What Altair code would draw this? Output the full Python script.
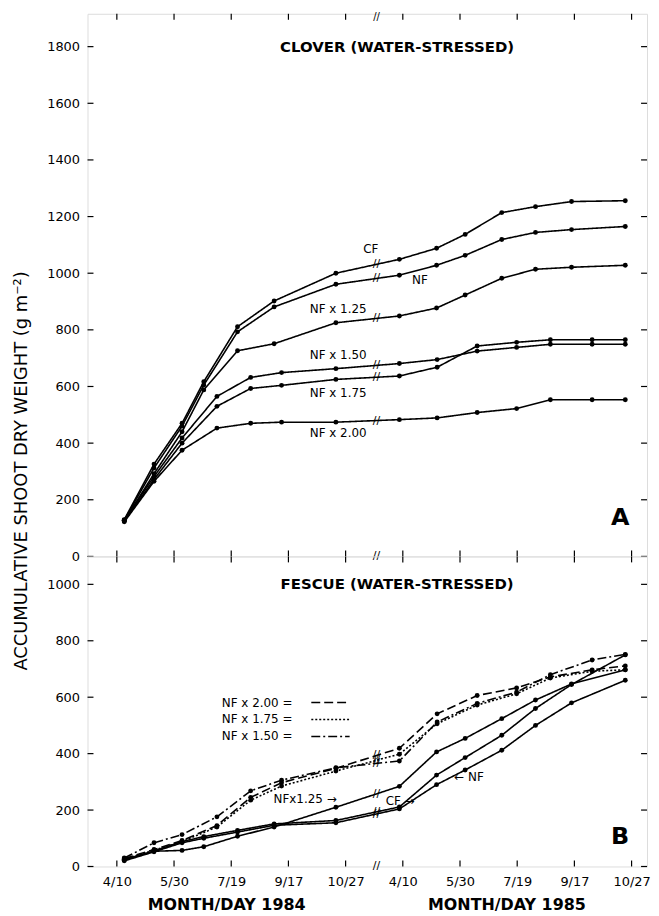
import json
import altair as alt
import pandas as pd

# ---------------- data ----------------
TICK_POS = [0, 1, 2, 3, 4, 5, 6, 7, 8, 9]
TICK_LABELS = ["4/10", "5/30", "7/19", "9/17", "10/27", "4/10", "5/30", "7/19", "9/17", "10/27"]
BREAK_POS = 4.54

# sampling positions (in tick units along the broken axis)
X_SOLID = [0.13, 0.65, 1.14, 1.52, 2.11, 2.75, 3.83, 4.94, 5.59, 6.09, 6.73, 7.32, 7.95, 8.89]
X_PATT = [0.13, 0.65, 1.14, 1.75, 2.34, 2.88, 3.83, 4.94, 5.60, 6.30, 6.99, 7.58, 8.31, 8.89]

SERIES = ["CF", "NF", "NF x 1.25", "NF x 1.50", "NF x 1.75", "NF x 2.00"]

# Clover (water-stressed), g m-2
CL_CF = [130, 326, 470, 617, 811, 902, 1000, 1049, 1088, 1137, 1214, 1235, 1253, 1256]
CL_NF = [128, 312, 460, 605, 793, 881, 961, 993, 1028, 1063, 1119, 1144, 1154, 1165]
CL_125 = [126, 292, 440, 588, 726, 751, 825, 849, 877, 923, 982, 1014, 1021, 1028]
CL_150 = [128, 282, 418, 565, 632, 649, 663, 681, 695, 725, 738, 749, 749, 749]
CL_175 = [125, 272, 400, 530, 593, 604, 625, 637, 668, 743, 756, 765, 765, 765]
CL_200 = [122, 265, 375, 453, 470, 474, 474, 483, 489, 508, 522, 553, 553, 553]

# Fescue (water-stressed), g m-2
FE_CF = [22, 55, 88, 106, 128, 151, 163, 211, 324, 386, 465, 560, 645, 750]
FE_NF = [20, 52, 84, 100, 122, 146, 155, 204, 290, 342, 412, 500, 580, 660]
FE_125 = [25, 54, 57, 70, 107, 140, 210, 284, 406, 454, 524, 590, 647, 697]
FE_150 = [30, 84, 113, 176, 268, 306, 350, 374, 512, 578, 618, 680, 732, 752]
FE_175 = [26, 58, 88, 140, 235, 285, 338, 398, 506, 572, 612, 668, 692, 697]
FE_200 = [28, 60, 92, 145, 245, 297, 348, 419, 541, 606, 633, 672, 697, 711]

TOP_Y_TICKS = [0, 200, 400, 600, 800, 1000, 1200, 1400, 1600, 1800]
BOT_Y_TICKS = [0, 200, 400, 600, 800, 1000]

TOP_LABELS = ["CF", "NF", "NF x 1.25", "NF x 1.50", "NF x 1.75", "NF x 2.00"]
TOP_LABEL_X = [4.44, 5.30, 3.87, 3.87, 3.87, 3.87]
TOP_LABEL_Y = [1084, 975, 874, 712, 576, 436]

BOT_LABELS = ["NFx1.25 \u2192", "CF \u2192", "\u2190 NF"]
BOT_LABEL_X = [2.74, 4.70, 5.90]
BOT_LABEL_Y = [239, 233, 317]

LEG_NAMES = ["NF x 2.00", "NF x 1.75", "NF x 1.50"]
LEG_TEXT = ["NF x 2.00 =", "NF x 1.75 =", "NF x 1.50 ="]
LEG_Y = [581, 521, 461]
LEG_TEXT_X = 3.07
LEG_LINE_X = [3.40, 4.07]

YEAR_TEXT = ["MONTH/DAY 1984", "MONTH/DAY 1985"]
YEAR_X = [1.92, 6.82]

# ---------------- styling ----------------
FONT = "DejaVu Sans"
W = 563
H_TOP = 546
H_BOT = 312
X_DOMAIN = [-0.513, 9.27]
Y_TOP_DOMAIN = [0, 1916]
Y_BOT_DOMAIN = [0, 1099]
SOLID = [1, 0]
DASH_TOP = {s: SOLID for s in SERIES}
DASH_BOT = {"CF": SOLID, "NF": SOLID, "NF x 1.25": SOLID,
            "NF x 1.50": [9, 3, 2, 3], "NF x 1.75": [2, 2], "NF x 2.00": [9, 4]}

label_expr = json.dumps(TICK_LABELS) + "[datum.value]"


def xs_for(name):
    return X_SOLID if name in ("CF", "NF", "NF x 1.25") else X_PATT


def panel(cols, ydomain, H, yticks, dashes, show_x):
    x_axis = (
        alt.Axis(values=TICK_POS, labelExpr=label_expr, ticks=False, domain=False, grid=False,
                 labelFont=FONT, labelFontSize=13, labelPadding=9, labelColor="black",
                 title=None, labelFlush=False, labelOverlap=False)
        if show_x else None
    )
    x_enc = alt.X("x:Q", scale=alt.Scale(domain=X_DOMAIN, nice=False, zero=False), axis=x_axis)
    y_enc = alt.Y("y:Q", scale=alt.Scale(domain=ydomain, nice=False, zero=False),
                  axis=alt.Axis(values=yticks, format="d", ticks=False, domain=False, grid=False,
                                labelFont=FONT, labelFontSize=13, labelPadding=8,
                                labelColor="black", title=None))
    layers = []
    brk_rows = []
    for name, ys in zip(SERIES, cols):
        xs = xs_for(name)
        df = pd.DataFrame({"x": xs, "y": ys})
        layers.append(alt.Chart(df).mark_line(color="black", strokeWidth=1.6,
                                              strokeDash=dashes[name]).encode(x=x_enc, y=y_enc))
        layers.append(alt.Chart(df).mark_circle(color="black", size=24, opacity=1).encode(x=x_enc, y=y_enc))
        t = (BREAK_POS - xs[6]) / (xs[7] - xs[6])
        brk_rows.append({"x": BREAK_POS, "y": ys[6] + t * (ys[7] - ys[6])})

    xt = pd.DataFrame({"x": TICK_POS})
    yt = pd.DataFrame({"y": yticks})
    tick_style = dict(color="black", strokeWidth=1.2)
    layers += [
        alt.Chart(xt).mark_rule(**tick_style).encode(x=x_enc, y=alt.value(H), y2=alt.value(H - 6)),
        alt.Chart(xt).mark_rule(**tick_style).encode(x=x_enc, y=alt.value(0), y2=alt.value(6)),
        alt.Chart(yt).mark_rule(**tick_style).encode(y=y_enc, x=alt.value(0), x2=alt.value(6)),
        alt.Chart(yt).mark_rule(**tick_style).encode(y=y_enc, x=alt.value(W), x2=alt.value(W - 6)),
    ]
    bdf = pd.DataFrame({"x": [BREAK_POS]})
    layers += [
        alt.Chart(bdf).mark_text(text="//", font=FONT, fontSize=11, color="black").encode(
            x=x_enc, y=alt.value(H)),
        alt.Chart(pd.DataFrame(brk_rows)).mark_text(text="//", font=FONT, fontSize=11, color="black").encode(
            x=x_enc, y=y_enc),
    ]
    return x_enc, y_enc, layers


def text_layer(x_enc, y_enc, xs, ys, labels, **kw):
    style = dict(font=FONT, fontSize=12, color="black", align="center", baseline="middle")
    style.update(kw)
    return alt.Chart(pd.DataFrame({"x": xs, "y": ys, "label": labels})).mark_text(**style).encode(
        x=x_enc, y=y_enc, text="label:N")


# ---------------- top panel (clover) ----------------
cl_cols = [CL_CF, CL_NF, CL_125, CL_150, CL_175, CL_200]
x_t, y_t, top_layers = panel(cl_cols, Y_TOP_DOMAIN, H_TOP, TOP_Y_TICKS, DASH_TOP, False)

top_lab = text_layer(x_t, y_t, TOP_LABEL_X, TOP_LABEL_Y, TOP_LABELS)
top_title = text_layer(x_t, y_t, [4.9], [1800], ["CLOVER (WATER-STRESSED)"], fontSize=15, fontWeight="bold")
top_letter = text_layer(x_t, y_t, [8.8], [135], ["A"], fontSize=24, fontWeight="bold")
top_brk_top = alt.Chart(pd.DataFrame({"x": [BREAK_POS]})).mark_text(
    text="//", font=FONT, fontSize=10, color="black").encode(x=x_t, y=alt.value(3))
y_title = alt.Chart(pd.DataFrame({"label": ["ACCUMULATIVE SHOOT DRY WEIGHT (g m\u207b\u00b2)"]})).mark_text(
    font=FONT, fontSize=18, color="black", angle=270, align="center", baseline="middle").encode(
    x=alt.value(-66), y=alt.value(460), text="label:N")

top = alt.layer(*top_layers, top_lab, top_title, top_letter, top_brk_top, y_title).properties(
    width=W, height=H_TOP)

# ---------------- bottom panel (fescue) ----------------
fe_cols = [FE_CF, FE_NF, FE_125, FE_150, FE_175, FE_200]
x_b, y_b, bot_layers = panel(fe_cols, Y_BOT_DOMAIN, H_BOT, BOT_Y_TICKS, DASH_BOT, True)

bot_lab = text_layer(x_b, y_b, BOT_LABEL_X, BOT_LABEL_Y, BOT_LABELS, align="left")
bot_title = text_layer(x_b, y_b, [4.9], [1000], ["FESCUE (WATER-STRESSED)"], fontSize=15, fontWeight="bold")
bot_letter = text_layer(x_b, y_b, [8.8], [106], ["B"], fontSize=24, fontWeight="bold")
leg_text = text_layer(x_b, y_b, [LEG_TEXT_X] * 3, LEG_Y, LEG_TEXT, align="right")
leg_lines = []
for name, yv in zip(LEG_NAMES, LEG_Y):
    ldf = pd.DataFrame({"x": [LEG_LINE_X[0]], "x2": [LEG_LINE_X[1]], "y": [yv]})
    leg_lines.append(alt.Chart(ldf).mark_rule(color="black", strokeWidth=1.6,
                                              strokeDash=DASH_BOT[name]).encode(
        x=x_b, x2="x2:Q", y=y_b))
year_lab = alt.Chart(pd.DataFrame({"x": YEAR_X, "label": YEAR_TEXT})).mark_text(
    font=FONT, fontSize=16, fontWeight="bold", color="black", align="center", baseline="middle").encode(
    x=x_b, y=alt.value(H_BOT + 39), text="label:N")

bot = alt.layer(*bot_layers, bot_lab, bot_title, bot_letter, *leg_lines, leg_text, year_lab).properties(
    width=W, height=H_BOT)

chart = alt.vconcat(top, bot, spacing=0, bounds="flush").properties(
    padding={"left": 4, "top": 0, "right": 0, "bottom": 0}).configure_view(
    stroke="black", strokeWidth=1.5).configure(background="white")

chart.save("out.html", embed_options={"renderer": "svg", "actions": False})
